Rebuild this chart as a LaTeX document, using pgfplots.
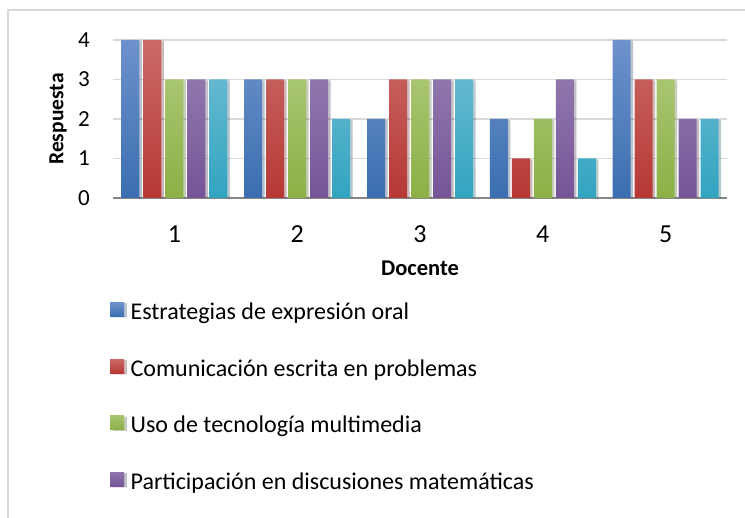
\documentclass[border=0pt]{standalone}
\usepackage{pgfplots}
\usepackage{pgfplotstable}
\pgfplotsset{compat=1.18}
\usepackage{fontspec}
\setmainfont{Carlito}
\definecolor{bluT}{RGB}{110,146,203}
\definecolor{bluB}{RGB}{58,110,176}
\definecolor{redT}{RGB}{202,106,103}
\definecolor{redB}{RGB}{182,56,52}
\definecolor{grnT}{RGB}{168,197,112}
\definecolor{grnB}{RGB}{140,176,70}
\definecolor{purT}{RGB}{144,118,173}
\definecolor{purB}{RGB}{117,84,150}
\definecolor{cyaT}{RGB}{100,184,208}
\definecolor{cyaB}{RGB}{50,164,192}
\definecolor{gridc}{RGB}{217,217,217}
\definecolor{axc}{RGB}{134,134,134}
\pgfplotstableread{
x a b c d e
1 4 4 3 3 3
2 3 3 3 3 2
3 2 3 3 3 3
4 2 1 2 3 1
5 4 3 3 2 2
}\data
\pgfplotsset{sqlegend/.style={legend image code/.code={\fill[##1] (0pt,-2pt) rectangle (14pt,12pt);}},
  shad/.style={preaction={fill=black, opacity=0.18, transform canvas={xshift=2.5pt, yshift=-1pt}}}}
\begin{document}
\begin{tikzpicture}
\useasboundingbox (0,0) rectangle (745pt,518pt);
\draw[gridc, line width=1.5pt] (8pt,0pt) -- (8pt,508pt) -- (745pt,508pt);
\begin{axis}[
  at={(113pt,320pt)}, anchor=south west,
  scale only axis, width=614pt, height=158pt,
  xmin=0.5, xmax=5.5, ymin=0, ymax=4,
  ybar=4pt, bar width=18pt,
  xtick={1,2,3,4,5}, ytick={0,1,2,3,4},
  axis lines*=left,
  y axis line style={draw=none},
  x axis line style={axc, line width=1.5pt, -},
  tick style={draw=none},
  ymajorgrids, grid style={gridc, line width=1.5pt},
  /pgf/number format/assume math mode=true,
  xticklabel style={inner sep=0pt, anchor=north, yshift=-23pt, font=\fontsize{26}{30}\selectfont},
  yticklabel style={inner sep=0pt, anchor=east, xshift=-23pt, font=\fontsize{23}{27}\selectfont},
  every axis y label/.style={at={(axis description cs:0,0.5)}, xshift=-55pt, rotate=90, anchor=center, font=\bfseries\fontsize{21.5}{25}\selectfont},
  every axis x label/.style={at={(axis description cs:0.5,0)}, yshift=-70pt, anchor=center, font=\bfseries\fontsize{22.5}{26}\selectfont},
  ylabel={Respuesta}, xlabel={Docente},
  legend cell align=left,
  legend style={at={(axis description cs:-0.005,-0.66)}, anchor=north west, draw=none, fill=none, inner sep=0pt,
    row sep=33.8pt, column sep=6.5pt, font=\fontsize{24}{28}\selectfont,
    nodes={inner sep=0pt, text height=16pt, text depth=5.5pt}},
]
\addplot[sqlegend, shad, draw=none, top color=bluT, bottom color=bluB] table[x=x,y=a]{\data};
\addplot[sqlegend, shad, draw=none, top color=redT, bottom color=redB] table[x=x,y=b]{\data};
\addplot[sqlegend, shad, draw=none, top color=grnT, bottom color=grnB] table[x=x,y=c]{\data};
\addplot[sqlegend, shad, draw=none, top color=purT, bottom color=purB] table[x=x,y=d]{\data};
\addplot[sqlegend, shad, draw=none, top color=cyaT, bottom color=cyaB] table[x=x,y=e]{\data};
\legend{Estrategias de expresión oral, Comunicación escrita en problemas, Uso de tecnología multimedia, Participación en discusiones matemáticas}
\end{axis}
\end{tikzpicture}
\end{document}
